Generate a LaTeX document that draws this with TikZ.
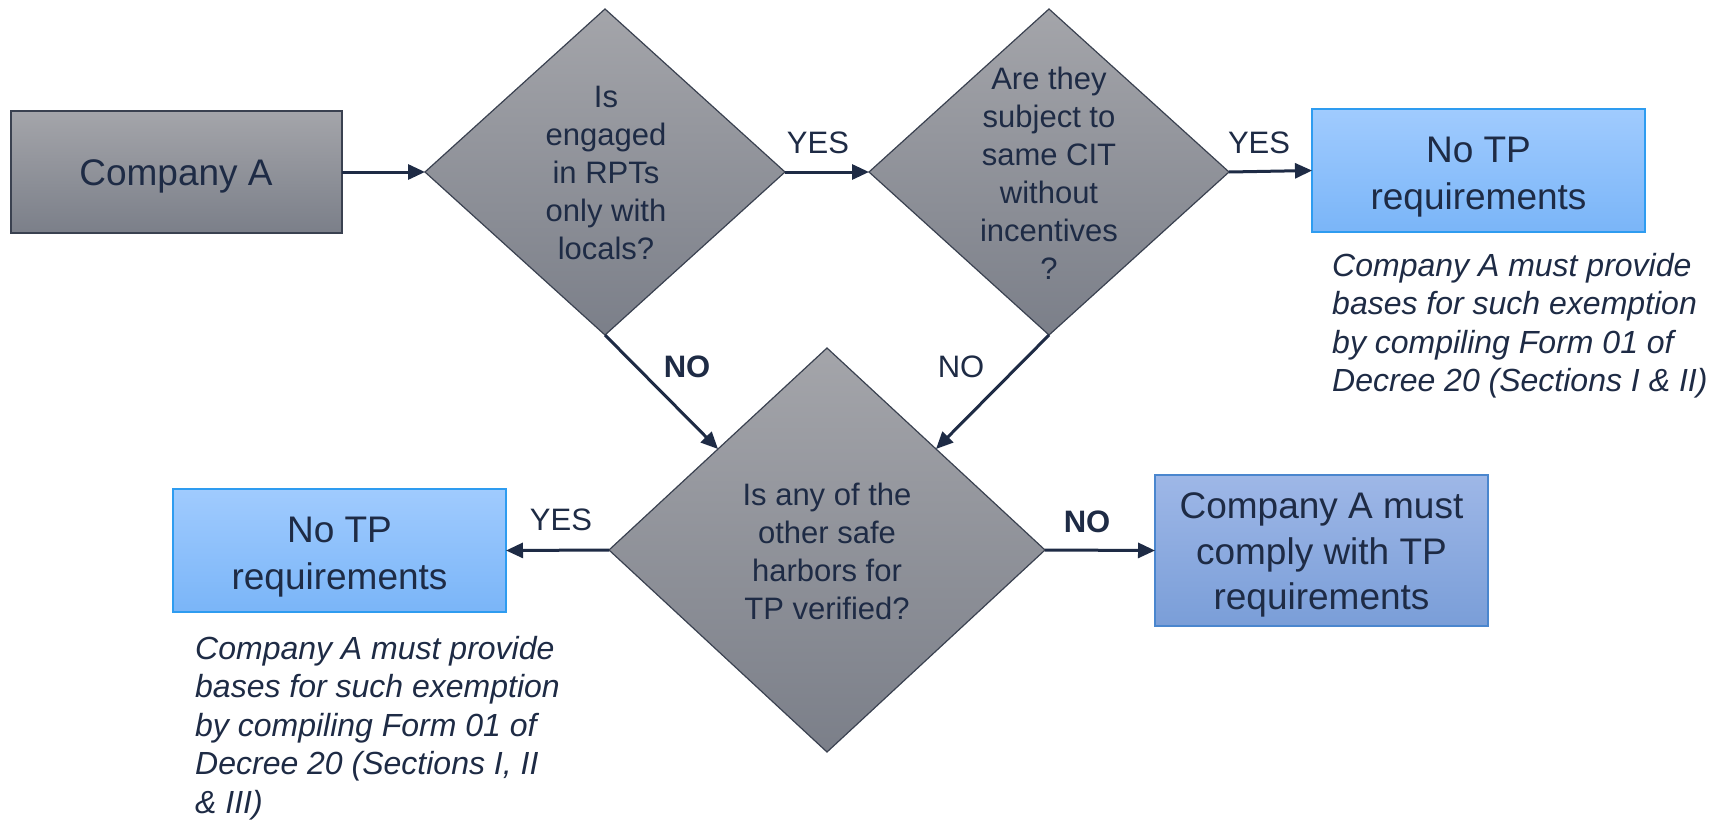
\documentclass[tikz,border=0pt]{standalone}
\usepackage{fontspec}
\setmainfont{Liberation Sans}
\usetikzlibrary{shapes.geometric,arrows.meta,calc}
\definecolor{ink}{HTML}{1E2B45}
\definecolor{gtop}{HTML}{A4A5AA}
\definecolor{gbot}{HTML}{7B7F89}
\definecolor{gedge}{HTML}{3A4150}
\definecolor{btop}{HTML}{A0CBFE}
\definecolor{bbot}{HTML}{7AB5F8}
\definecolor{bedge}{HTML}{2E9CF0}
\definecolor{ctop}{HTML}{9EB7E7}
\definecolor{cbot}{HTML}{7A9ED8}
\definecolor{cedge}{HTML}{4A86CE}
\tikzset{
  x=1pt, y=-1pt,
  graybox/.style={rectangle, draw=gedge, line width=1.8pt, top color=gtop, bottom color=gbot,
    inner sep=0pt, outer sep=0pt, text=ink, font=\fontsize{37}{45}\selectfont, align=center},
  bluebox/.style={rectangle, draw=bedge, line width=1.5pt, top color=btop, bottom color=bbot,
    inner sep=0pt, outer sep=0pt, minimum width=333pt, minimum height=123pt},
  compbox/.style={rectangle, draw=cedge, line width=1.5pt, top color=ctop, bottom color=cbot,
    inner sep=0pt, outer sep=0pt, minimum width=333pt, minimum height=151pt},
  boxtext/.style={inner sep=0pt, text=ink, align=center},
  dia/.style={diamond, draw=gedge, line width=1.2pt, top color=gtop, bottom color=gbot,
    inner sep=0pt, outer sep=0pt},
  diatext/.style={inner sep=0pt, text=ink, font=\fontsize{31}{38}\selectfont, align=center},
  note/.style={inner sep=0pt, anchor=north west, text=ink, font=\fontsize{32}{38.5}\selectfont\itshape, align=left},
  lbl/.style={inner sep=0pt, text=ink, font=\fontsize{31}{36}\selectfont},
  lblb/.style={inner sep=0pt, text=ink, font=\fontsize{31}{36}\selectfont\bfseries},
  conn/.style={draw=ink, line width=3pt, -{Triangle[length=17pt,width=15pt]}},
}
\begin{document}
\begin{tikzpicture}
\useasboundingbox[fill=white] (0,0) rectangle (1723,819);

% boxes and diamonds
\node[graybox, minimum width=331pt, minimum height=122pt] (ca) at (176.5,172) {};
\node[boxtext, font=\fontsize{37}{45}\selectfont] (cat) at (176,176) {Company A};

\node[dia, minimum width=360pt, minimum height=326pt] (d1) at (605,172) {};
\node[diatext] (d1t) at (606,173) {Is\\engaged\\in RPTs\\only with\\locals?};

\node[dia, minimum width=360pt, minimum height=326pt] (d2) at (1049,172) {};
\node[diatext] (d2t) at (1049,173) {Are they\\subject to\\same CIT\\without\\incentives\\?};

\node[dia, minimum width=436pt, minimum height=404pt] (d3) at (827,550) {};
\node[diatext] (d3t) at (827,551) {Is any of the\\other safe\\harbors for\\TP verified?};

\node[bluebox] (tr) at (1478.5,170.5) {};
\node[boxtext, font=\fontsize{37}{47}\selectfont] (trt) at (1478.5,177) {No TP\\requirements};
\node[bluebox] (bl) at (339.5,550.5) {};
\node[boxtext, font=\fontsize{37}{47}\selectfont] (blt) at (339.5,557) {No TP\\requirements};
\node[compbox] (br) at (1321.5,550.5) {};
\node[boxtext, font=\fontsize{37}{45.5}\selectfont] (brt) at (1321.5,555) {Company A must\\comply with TP\\requirements};

\node[note] (trn) at (1332,253) {Company A must provide\\bases for such exemption\\by compiling Form 01 of\\Decree 20 (Sections I \& II)};
\node[note] (bln) at (195,636) {Company A must provide\\bases for such exemption\\by compiling Form 01 of\\Decree 20 (Sections I, II\\\& III)};

% connectors
\coordinate (d3nw) at ($(d3.north)!0.5!(d3.west)$);
\coordinate (d3ne) at ($(d3.north)!0.5!(d3.east)$);
\draw[conn] (ca.east) -- (d1.west);
\draw[conn] (d1.east) -- (d2.west);
\draw[conn] (d2.east) -- (tr.west);
\draw[conn] (d1.south) -- (d3nw);
\draw[conn] (d2.south) -- (d3ne);
\draw[conn] (d3.west) -- (bl.east);
\draw[conn] (d3.east) -- (br.west);

% labels
\node[lbl] (y1) at (818,143) {YES};
\node[lbl] (y2) at (1259,143) {YES};
\node[lblb] (n1) at (687,367) {NO};
\node[lbl] (n2) at (961,367) {NO};
\node[lbl] (y3) at (561,520) {YES};
\node[lblb] (n3) at (1087,522) {NO};
\end{tikzpicture}
\end{document}
